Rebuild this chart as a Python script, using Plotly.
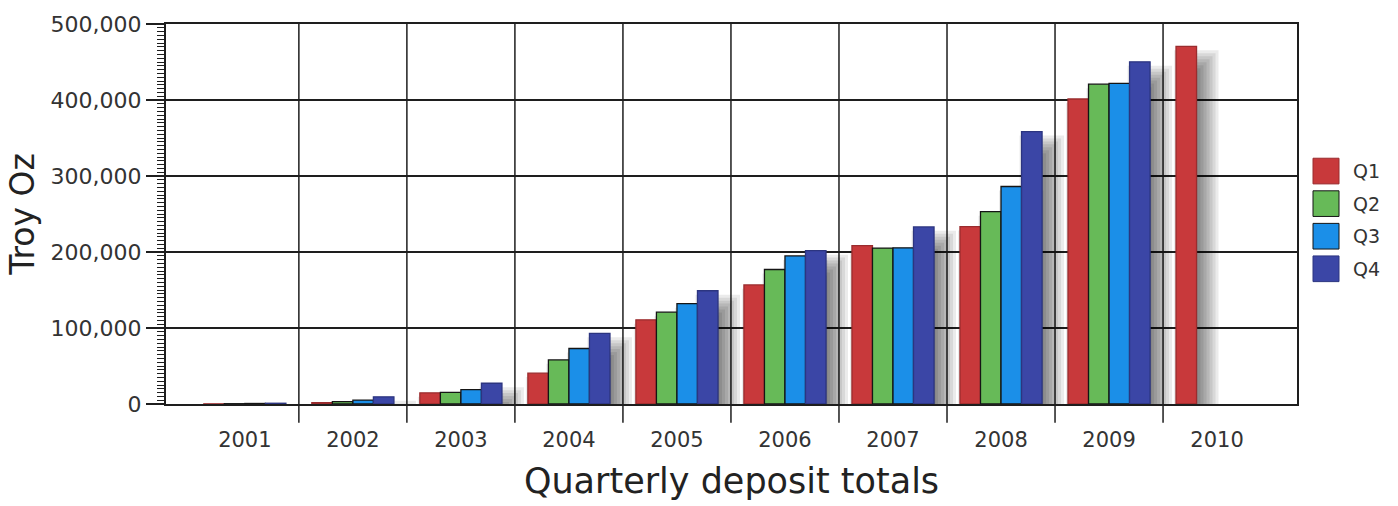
import plotly.graph_objects as go

# Quarterly deposit totals (troy ounces)
years = ["2001", "2002", "2003", "2004", "2005", "2006", "2007", "2008", "2009", "2010"]
quarters = ["Q1", "Q2", "Q3", "Q4"]
q1 = [200, 1800, 14700, 40600, 110800, 156700, 208300, 233500, 401300, 470500]
q2 = [400, 3000, 15200, 58000, 120800, 177000, 205200, 253000, 420800, None]
q3 = [700, 5200, 19000, 73000, 132000, 194800, 205500, 286200, 422000, None]
q4 = [1000, 9500, 27300, 93000, 149000, 201700, 233000, 358500, 450200, None]
series = [q1, q2, q3, q4]

fill_colors = ["#C8393B", "#67BA58", "#1B8FE8", "#3B46A6"]
edge_colors = ["#9A2C2E", "#151515", "#151515", "#2C3580"]

W, H = 1398, 506
M_L, M_R, M_T, M_B = 166, 101, 19, 102
X_RANGE = [-0.73, 9.74]
Y_RANGE = [0, 500000]
plot_w = W - M_L - M_R
plot_h = H - M_T - M_B
ux = (X_RANGE[1] - X_RANGE[0]) / plot_w   # x units per pixel
uy = (Y_RANGE[1] - Y_RANGE[0]) / plot_h   # y units per pixel

bar_w = 0.19
offsets = [-2 * bar_w, -bar_w, 0.0, bar_w]
xs = list(range(len(years)))

fig = go.Figure()

# soft drop shadow behind the bars (stacked translucent layers)
sh_dx, sh_dy = 10, 16
spreads = [-9, -6, -3, 0, 3, 6, 9, 12]
for s in spreads:
    for qi, vals in enumerate(series):
        ys = []
        for v in vals:
            if v is None:
                ys.append(None)
            else:
                ys.append(max(v - (sh_dy - s) * uy, 0))
        fig.add_trace(go.Bar(
            x=xs, y=ys, base=0,
            width=bar_w + 2 * s * ux,
            offset=offsets[qi] + (sh_dx - s) * ux,
            marker=dict(color="rgba(0,0,0,0.08)", line=dict(width=0)),
            hoverinfo="skip", showlegend=False,
        ))

for qi, vals in enumerate(series):
    fig.add_trace(go.Bar(
        x=xs, y=vals, name=quarters[qi],
        width=bar_w, offset=offsets[qi],
        marker=dict(color=fill_colors[qi], line=dict(color=edge_colors[qi], width=1.3)),
        showlegend=False,
    ))

# vertical separators between years, running down past the axis
for b in range(len(years) - 1):
    fig.add_shape(type="line", xref="x", yref="paper",
                  x0=b + 0.5, x1=b + 0.5, y0=-19 / plot_h, y1=1,
                  line=dict(color="#1e1e1e", width=1.5), layer="below")

# legend boxes and labels
for qi, name in enumerate(quarters):
    top_px = 155 + qi * 33
    y_top = (H - M_B - top_px) / plot_h
    y_bot = (H - M_B - (top_px + 26)) / plot_h
    x0 = (1313 - M_L) / plot_w
    x1 = (1339 - M_L) / plot_w
    fig.add_shape(type="rect", xref="paper", yref="paper",
                  x0=x0, x1=x1, y0=y_bot, y1=y_top,
                  fillcolor=fill_colors[qi], line=dict(color=edge_colors[qi], width=1))
    fig.add_annotation(xref="paper", yref="paper", x=(1351 - M_L) / plot_w,
                       y=(y_top + y_bot) / 2, text=name, showarrow=False,
                       xanchor="left", yanchor="middle",
                       font=dict(size=19, color="#333333"))

fig.update_layout(
    width=W, height=H,
    margin=dict(l=M_L, r=M_R, t=M_T, b=M_B),
    barmode="overlay",
    plot_bgcolor="white", paper_bgcolor="white",
    font=dict(family="DejaVu Sans, Verdana, sans-serif", color="#333333"),
    xaxis=dict(
        range=X_RANGE, tickmode="array", tickvals=xs, ticktext=years,
        ticks="outside", ticklen=16, tickcolor="rgba(0,0,0,0)",
        tickfont=dict(size=21, color="#333333"),
        showgrid=False, zeroline=False,
        showline=True, mirror=True, linecolor="#1e1e1e", linewidth=2,
        title=dict(text="Quarterly deposit totals", font=dict(size=35, color="#222222"), standoff=17),
    ),
    yaxis=dict(
        range=Y_RANGE, tickmode="linear", tick0=0, dtick=100000,
        tickformat=",", ticks="outside", ticklen=18, tickcolor="#1e1e1e", tickwidth=1.5,
        tickfont=dict(size=22, color="#333333"),
        minor=dict(dtick=5000, ticks="outside", ticklen=7, tickcolor="#1e1e1e", tickwidth=1, showgrid=False),
        showgrid=True, gridcolor="#1e1e1e", gridwidth=1.5, zeroline=False,
        showline=True, mirror=True, linecolor="#1e1e1e", linewidth=2,
        title=dict(text="Troy Oz", font=dict(size=33, color="#222222"), standoff=6),
    ),
)

fig.write_html("out.html")
